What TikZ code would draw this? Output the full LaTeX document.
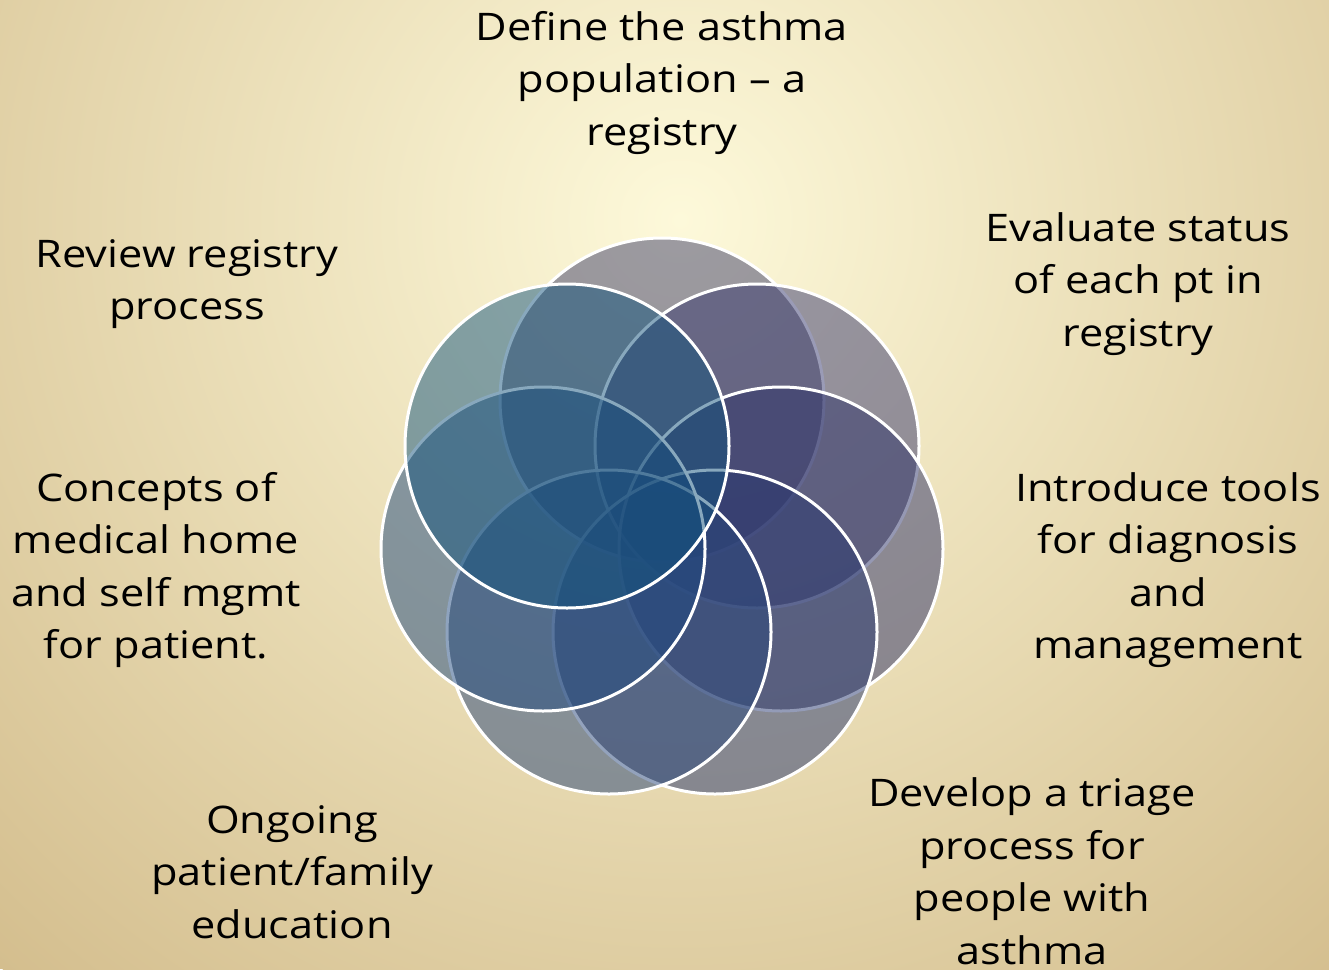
\documentclass[tikz,border=0pt]{standalone}
\usepackage{fontspec}
\setmainfont[FakeStretch=1.14]{Open Sans}
\definecolor{bgin}{RGB}{253,249,218}
\definecolor{bgout}{RGB}{212,190,142}
\definecolor{ca}{RGB}{61,62,105}
\definecolor{cb}{RGB}{55,56,110}
\definecolor{cc}{RGB}{45,50,105}
\definecolor{cd}{RGB}{40,56,112}
\definecolor{ce}{RGB}{40,70,122}
\definecolor{cf}{RGB}{30,72,126}
\definecolor{cg}{RGB}{18,83,124}
\tikzset{
  ring/.style={circle, draw=white, line width=3pt, fill opacity=0.5, minimum size=324pt, inner sep=0pt},
  lbl/.style={align=center, text=black, font=\fontsize{38}{52.5}\selectfont, inner sep=0pt}
}
\begin{document}
\begin{tikzpicture}[x=1pt,y=-1pt]
\useasboundingbox (0,0) rectangle (1329,969);
\begin{scope}
\clip (0,0) rectangle (1329,969);
\fill[bgout] (0,0) rectangle (1329,969);
\shade[inner color=bgin, outer color=bgout] (680,220) circle (1010pt);
\end{scope}
\node[ring, fill=ca] (r1) at (662,400) {};
\node[ring, fill=cb] (r2) at (757,446) {};
\node[ring, fill=cc] (r3) at (781,549) {};
\node[ring, fill=cd] (r4) at (715,632) {};
\node[ring, fill=ce] (r5) at (609,632) {};
\node[ring, fill=cf] (r6) at (543,549) {};
\node[ring, fill=cg] (r7) at (567,446) {};
\node[lbl] (t1) at (662,83) {Define the asthma\\population – a\\registry};
\node[lbl] (t2) at (1138,284) {Evaluate status\\of each pt in\\registry};
\node[lbl] (t3) at (1168,570) {Introduce tools\\for diagnosis\\and\\management};
\node[lbl] (t4) at (1032,871) {Develop a triage\\process for\\people with\\asthma};
\node[lbl] (t5) at (292,872) {Ongoing\\patient/family\\education};
\node[lbl] (t6) at (156,570) {Concepts of\\medical home\\and self mgmt\\for patient.};
\node[lbl] (t7) at (187,284) {Review registry\\process};
\end{tikzpicture}
\end{document}
